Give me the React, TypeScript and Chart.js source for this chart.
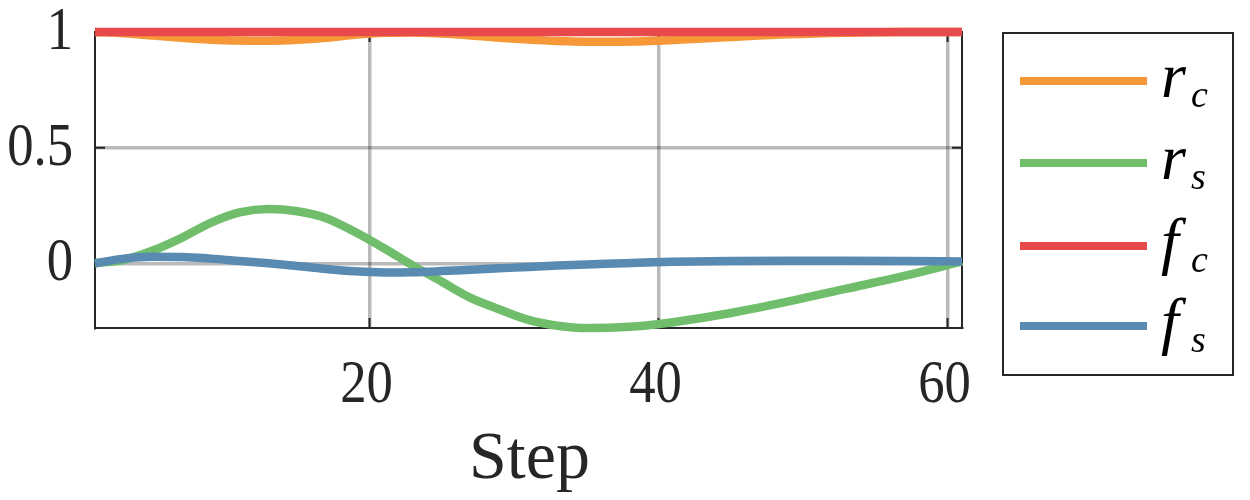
import React, { useEffect, useRef } from 'react';
import { Chart, registerables } from 'chart.js';

Chart.register(...registerables);

// ---- data ----
const steps = [1, 3, 5, 7, 9, 11, 13, 15, 17, 19, 21, 23, 25, 27, 29, 31, 33, 35, 37, 39, 41, 45, 49, 53, 57, 61];
const rC = [1.0, 0.995, 0.985, 0.975, 0.967, 0.963, 0.962, 0.966, 0.975, 0.988, 0.997, 0.998, 0.993, 0.985, 0.975, 0.967, 0.961, 0.958, 0.958, 0.96, 0.965, 0.978, 0.99, 0.997, 1.0, 1.0];
const rS = [0.0, 0.015, 0.055, 0.11, 0.175, 0.22, 0.235, 0.225, 0.195, 0.135, 0.065, -0.01, -0.08, -0.15, -0.2, -0.245, -0.27, -0.28, -0.278, -0.27, -0.255, -0.215, -0.165, -0.11, -0.055, 0.008];
const fC = [1, 1, 1, 1, 1, 1, 1, 1, 1, 1, 1, 1, 1, 1, 1, 1, 1, 1, 1, 1, 1, 1, 1, 1, 1, 1];
const fS = [0.0, 0.02, 0.028, 0.027, 0.02, 0.01, 0.0, -0.012, -0.025, -0.035, -0.04, -0.039, -0.034, -0.028, -0.022, -0.016, -0.01, -0.005, -0.001, 0.003, 0.006, 0.01, 0.011, 0.011, 0.01, 0.008];

const xTicks = [20, 40, 60];
const yTicks = [0, 0.5, 1];
const xTickLabels = ['20', '40', '60'];
const yTickLabels = ['0', '0.5', '1'];
const xTitle = 'Step';
const legendMain = ['r', 'r', 'f', 'f'];
const legendSub = ['c', 's', 'c', 's'];
const seriesColors = ['#F79838', '#70BE6C', '#E84A4C', '#588AB2'];

const W = 1250;
const H = 500;
const DARK = '#262626';
const GRID = 'rgba(0,0,0,0.27)';
const BASE = 20;

function drawText(
  ctx: CanvasRenderingContext2D,
  text: string,
  x: number,
  y: number,
  size: number,
  opts: { italic?: boolean; align?: CanvasTextAlign; kx?: number; color?: string } = {}
) {
  ctx.save();
  ctx.translate(x, y);
  const k = size / BASE;
  ctx.scale(k * (opts.kx ?? 1), k);
  ctx.font = `${opts.italic ? 'italic ' : ''}${BASE}px "Liberation Serif", "Times New Roman", serif`;
  ctx.textAlign = opts.align ?? 'left';
  ctx.textBaseline = 'alphabetic';
  ctx.fillStyle = opts.color ?? DARK;
  ctx.fillText(text, 0, 0);
  ctx.restore();
}

const framePlugin = {
  id: 'frameAndLegend',
  beforeDatasetsDraw(chart: any) {
    const { ctx, chartArea: a, scales } = chart;
    ctx.save();
    ctx.strokeStyle = DARK;
    ctx.lineWidth = 2;
    ctx.beginPath();
    ctx.moveTo(a.left, a.top);
    ctx.lineTo(a.right, a.top);
    ctx.lineTo(a.right, a.bottom);
    ctx.stroke();
    ctx.beginPath();
    for (const v of xTicks) {
      const px = scales.x.getPixelForValue(v);
      ctx.moveTo(px, a.bottom);
      ctx.lineTo(px, a.bottom - 10);
      ctx.moveTo(px, a.top);
      ctx.lineTo(px, a.top + 10);
    }
    for (const v of yTicks) {
      const py = scales.y.getPixelForValue(v);
      ctx.moveTo(a.left, py);
      ctx.lineTo(a.left + 10, py);
      ctx.moveTo(a.right, py);
      ctx.lineTo(a.right - 10, py);
    }
    ctx.stroke();
    ctx.restore();
  },
  afterDraw(chart: any) {
    const { ctx, chartArea: a, scales } = chart;
    yTicks.forEach((v, i) => {
      drawText(ctx, yTickLabels[i], a.left - 22, scales.y.getPixelForValue(v) + 17, 62, { align: 'right', kx: 0.85 });
    });
    xTicks.forEach((v, i) => {
      drawText(ctx, xTickLabels[i], scales.x.getPixelForValue(v) - 3, 402, 62, { align: 'center', kx: 0.85 });
    });
    drawText(ctx, xTitle, (a.left + a.right) / 2 + 1, 478, 68, { align: 'center' });

    ctx.save();
    ctx.strokeStyle = DARK;
    ctx.lineWidth = 2;
    ctx.strokeRect(1003, 33, 230, 342);
    const centers = [81, 163, 246, 326];
    for (let i = 0; i < legendMain.length; i++) {
      const cy = centers[i];
      ctx.strokeStyle = seriesColors[i];
      ctx.lineWidth = 8;
      ctx.beginPath();
      ctx.moveTo(1020, cy);
      ctx.lineTo(1147, cy);
      ctx.stroke();
    }
    ctx.restore();
    for (let i = 0; i < legendMain.length; i++) {
      const cy = centers[i];
      drawText(ctx, legendMain[i], 1161, cy + 16, 64, { italic: true, color: '#000' });
      drawText(ctx, legendSub[i], 1191, cy + 26, 38, { italic: true, color: '#000' });
    }
  },
};

export default function App() {
  const ref = useRef<HTMLCanvasElement | null>(null);

  useEffect(() => {
    if (!ref.current) return;
    const mk = (i: number, data: number[], order: number) => ({
      label: legendMain[i] + '_' + legendSub[i],
      data: steps.map((s, k) => ({ x: s, y: data[k] })),
      borderColor: seriesColors[i],
      backgroundColor: seriesColors[i],
      borderWidth: 8.5,
      pointRadius: 0,
      cubicInterpolationMode: 'monotone' as const,
      fill: false,
      clip: 10,
      order,
    });
    const chart = new Chart(ref.current, {
      type: 'line',
      data: {
        datasets: [mk(0, rC, 3), mk(1, rS, 2), mk(2, fC, 1), mk(3, fS, 0)],
      },
      plugins: [framePlugin],
      options: {
        animation: false,
        responsive: false,
        devicePixelRatio: 1,
        layout: { padding: { left: 0, top: 32, right: W - 962, bottom: 0 } },
        plugins: { legend: { display: false }, tooltip: { enabled: false } },
        scales: {
          x: {
            type: 'linear',
            min: 1,
            max: 61,
            afterBuildTicks: (s: any) => {
              s.ticks = xTicks.map((v) => ({ value: v }));
            },
            afterFit: (s: any) => {
              s.height = H - 328;
              s.paddingLeft = 0;
              s.paddingRight = 0;
            },
            ticks: { display: false },
            title: { display: false },
            grid: { color: GRID, lineWidth: 3.5, drawTicks: false },
            border: { display: true, color: DARK, width: 2 },
          },
          y: {
            type: 'linear',
            min: -0.28,
            max: 1,
            afterBuildTicks: (s: any) => {
              s.ticks = yTicks.map((v) => ({ value: v }));
            },
            afterFit: (s: any) => {
              s.width = 95;
              s.paddingTop = 0;
              s.paddingBottom = 0;
            },
            ticks: { display: false },
            grid: { color: GRID, lineWidth: 3.5, drawTicks: false },
            border: { display: true, color: DARK, width: 2 },
          },
        },
      } as any,
    });
    let alive = true;
    const redraw = () => {
      if (alive) chart.update();
    };
    const fonts: any = (document as any).fonts;
    if (fonts && fonts.ready) fonts.ready.then(redraw).catch(() => {});
    const t1 = setTimeout(redraw, 30);
    return () => {
      alive = false;
      clearTimeout(t1);
      chart.destroy();
    };
  }, []);

  return (
    <div
      style={{
        position: 'fixed',
        left: 0,
        top: 0,
        width: W,
        height: H,
        overflow: 'hidden',
        background: '#fff',
      }}
    >
      <canvas ref={ref} width={W} height={H} style={{ display: 'block' }} />
    </div>
  );
}
